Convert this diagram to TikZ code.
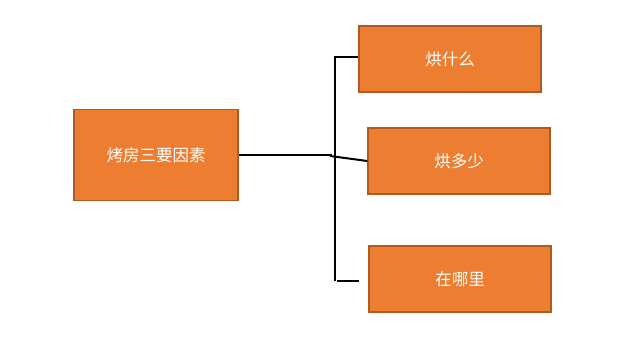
\documentclass[tikz,border=0pt]{standalone}
\usepackage{fontspec}
\newfontfamily\cjk{Noto Sans CJK SC}
\definecolor{boxfill}{HTML}{ED7D31}
\definecolor{boxline}{HTML}{AE5A21}
\begin{document}
\begin{tikzpicture}[x=1pt,y=-1pt,
  obox/.style={draw=boxline,fill=boxfill,line width=1.5pt,inner sep=0pt,
    text=white,font=\cjk\fontsize{16.5}{19}\selectfont},
  conn/.style={draw=black,line width=2pt}]
\useasboundingbox (0,0) rectangle (635,337);
\node[obox,minimum width=164pt,minimum height=91pt] (root) at (156,155) {烤房三要因素};
\node[obox,minimum width=182pt,minimum height=66pt] (a) at (450,59) {烘什么};
\node[obox,minimum width=182pt,minimum height=66pt] (b) at (459,161) {烘多少};
\node[obox,minimum width=182pt,minimum height=66pt] (c) at (460,279) {在哪里};
\coordinate (top) at (335,57);
\coordinate (bot) at (335,281);
\coordinate (j) at (332,155);
\coordinate (cend) at (359,281);
\coordinate (bst) at (330,156);
\draw[conn] (a.west |- top) -- (top) -- (bot);
\draw[conn] (337,281) coordinate (cst) -- (cend);
\draw[conn] (root.east) -- (j);
\draw[conn] (bst) -- (b.west);
\end{tikzpicture}
\end{document}
